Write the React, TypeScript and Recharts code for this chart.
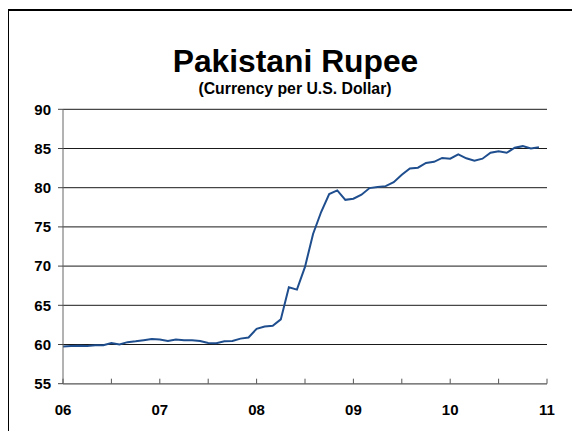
import React from "react";
import { LineChart, Line, XAxis, YAxis, CartesianGrid } from "recharts";

// Monthly PKR per USD, Jan 2006 .. Dec 2010
const rates: number[] = [
  59.75, 59.8, 59.85, 59.8, 59.9, 59.9, 60.2, 60.0, 60.3, 60.4, 60.55, 60.7,
  60.65, 60.45, 60.65, 60.55, 60.55, 60.45, 60.2, 60.15, 60.4, 60.45, 60.75, 60.9,
  62.0, 62.3, 62.4, 63.2, 67.3, 67.0, 69.9, 74.1, 76.9, 79.2, 79.65, 78.45,
  78.6, 79.1, 79.95, 80.1, 80.2, 80.7, 81.65, 82.45, 82.55, 83.15, 83.3, 83.8,
  83.7, 84.25, 83.75, 83.45, 83.7, 84.45, 84.65, 84.45, 85.1, 85.3, 85.0, 85.15,
];
const yearLabels: string[] = ["06", "07", "08", "09", "10", "11"];
const yTicks: number[] = [55, 60, 65, 70, 75, 80, 85, 90];
const xTicks: number[] = [0, 6, 12, 18, 24, 30, 36, 42, 48, 54, 60];

const data = rates.map((v, i) => ({ m: i, rate: v }));

const FONT = "'Liberation Sans', Arial, sans-serif";

const XTick = (props: any) => {
  const { x, y, payload } = props;
  const v = payload.value as number;
  const isYear = v % 12 === 0;
  return (
    <g>
      <line x1={x} y1={y} x2={x} y2={y - 5} stroke="#555" strokeWidth={1} />
      {isYear && (
        <text
          x={x}
          y={y + 31}
          textAnchor="middle"
          fontFamily={FONT}
          fontWeight="bold"
          fontSize={15}
          fill="#000"
        >
          {yearLabels[v / 12]}
        </text>
      )}
    </g>
  );
};

export default function App() {
  return (
    <div
      style={{
        position: "relative",
        width: 580,
        height: 439,
        margin: -8,
        overflow: "hidden",
        background: "#fff",
      }}
    >
      <div
        style={{
          position: "absolute",
          left: 7,
          top: 9,
          width: 700,
          height: 600,
          borderLeft: "2px solid #000",
          borderTop: "2px solid #000",
        }}
      />
      <svg
        width={580}
        height={439}
        style={{ position: "absolute", left: 0, top: 0 }}
      >
        <text
          x={295.5}
          y={72}
          textAnchor="middle"
          fontFamily={FONT}
          fontWeight="bold"
          fontSize={31.8}
          fill="#000"
        >
          Pakistani Rupee
        </text>
        <text
          x={295}
          y={94}
          textAnchor="middle"
          fontFamily={FONT}
          fontWeight="bold"
          fontSize={15.8}
          fill="#000"
        >
          (Currency per U.S. Dollar)
        </text>
      </svg>
      <div style={{ position: "absolute", left: 0, top: 0 }}>
        <LineChart
          width={580}
          height={439}
          data={data}
          margin={{ top: 109.3, right: 33, bottom: 25.3, left: 13 }}
        >
          <CartesianGrid
            vertical={false}
            stroke="#1a1a1a"
            strokeWidth={1}
          />
          <XAxis
            dataKey="m"
            type="number"
            domain={[0, 60]}
            ticks={xTicks}
            interval={0}
            height={30}
            tickSize={0}
            tickMargin={0}
            tickLine={false}
            axisLine={{ stroke: "#808080", strokeWidth: 1.5 }}
            tick={<XTick />}
          />
          <YAxis
            type="number"
            domain={[55, 90]}
            ticks={yTicks}
            interval={0}
            width={50}
            tickSize={5}
            tickMargin={7}
            axisLine={{ stroke: "#666", strokeWidth: 1 }}
            tickLine={{ stroke: "#444", strokeWidth: 1 }}
            tick={{
              fontFamily: FONT,
              fontWeight: "bold",
              fontSize: 15,
              fill: "#000",
            }}
          />
          <Line
            type="linear"
            dataKey="rate"
            stroke="#1f4e8e"
            strokeWidth={2}
            dot={false}
            isAnimationActive={false}
          />
        </LineChart>
      </div>
    </div>
  );
}
